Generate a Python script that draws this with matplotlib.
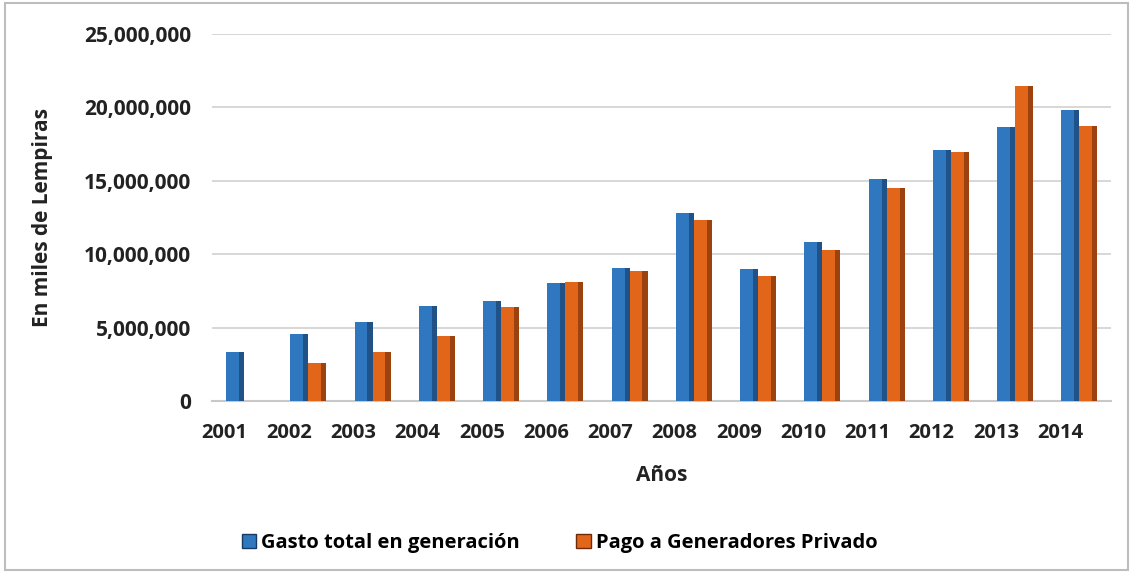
import matplotlib.pyplot as plt
import numpy as np
from matplotlib.patches import Rectangle

plt.rcParams['font.family'] = ['Open Sans', 'DejaVu Sans']
plt.rcParams['font.weight'] = 'bold'

years = ['2001', '2002', '2003', '2004', '2005', '2006', '2007',
         '2008', '2009', '2010', '2011', '2012', '2013', '2014']
gasto = [3320000, 4550000, 5410000, 6460000, 6840000, 8070000, 9090000,
         12780000, 8980000, 10800000, 15140000, 17070000, 18670000, 19800000]
pago = [0, 2570000, 3340000, 4450000, 6390000, 8140000, 8870000,
        12330000, 8530000, 10300000, 14480000, 16960000, 21440000, 18710000]
yticks = [0, 5000000, 10000000, 15000000, 20000000, 25000000]

blue, blue_dark = '#2f78c0', '#173a63'
orange, orange_dark = '#e2661a', '#6e2a08'
txt = '#222222'

fig = plt.figure(figsize=(11.33, 5.77), dpi=100)
ax = fig.add_axes([0.187, 0.305, 0.794, 0.636])

x = np.arange(len(years))
w = 0.28
ax.bar(x - w/2, gasto, w, color=blue, zorder=3)
ax.bar(x + w/2, pago, w, color=orange, zorder=3)
# darker side strip for a 3D look
ax.bar(x - w/2 + w*0.36, gasto, w*0.28, color=blue_dark, alpha=0.6, zorder=4)
ax.bar(x + w/2 + w*0.36, pago, w*0.28, color=orange_dark, alpha=0.6, zorder=4)

ax.set_xlim(-0.5, len(years) - 0.5)
ax.set_ylim(0, 25000000)
ax.set_yticks(yticks)
ax.set_yticklabels(['{:,}'.format(v) for v in yticks], fontsize=15, fontweight='bold', color=txt)
ax.set_xticks(x - 0.3)
ax.set_xticklabels(years, fontsize=14.5, fontweight='bold', color=txt)
ax.tick_params(axis='y', length=0, pad=15)
ax.tick_params(axis='x', length=0, pad=16)
ax.grid(axis='y', color='#d4d4d4', linewidth=1.3, zorder=0)
for s in ['top', 'right', 'left']:
    ax.spines[s].set_visible(False)
ax.spines['bottom'].set_color('#c8c8c8')
ax.spines['bottom'].set_linewidth(1.5)

ax.set_xlabel('Años', fontsize=15, fontweight='bold', labelpad=16, color=txt)
ax.set_ylabel('En miles de Lempiras', fontsize=15, fontweight='bold', labelpad=22, color=txt)

h1 = Rectangle((0, 0), 1, 1, facecolor=blue, edgecolor=blue_dark)
h2 = Rectangle((0, 0), 1, 1, facecolor=orange, edgecolor=orange_dark)
fig.legend([h1, h2], ['Gasto total en generación', 'Pago a Generadores Privado'],
           loc='center', bbox_to_anchor=(0.494, 0.059), ncol=2, frameon=False,
           fontsize=14.5, handlelength=0.7, handleheight=0.7, handletextpad=0.25,
           columnspacing=2.8)

fig.patches.append(Rectangle((0.004, 0.012), 0.992, 0.982, transform=fig.transFigure,
                             fill=False, edgecolor='#bdbdbd', linewidth=1.5))

fig.savefig('out.png', dpi=100)
